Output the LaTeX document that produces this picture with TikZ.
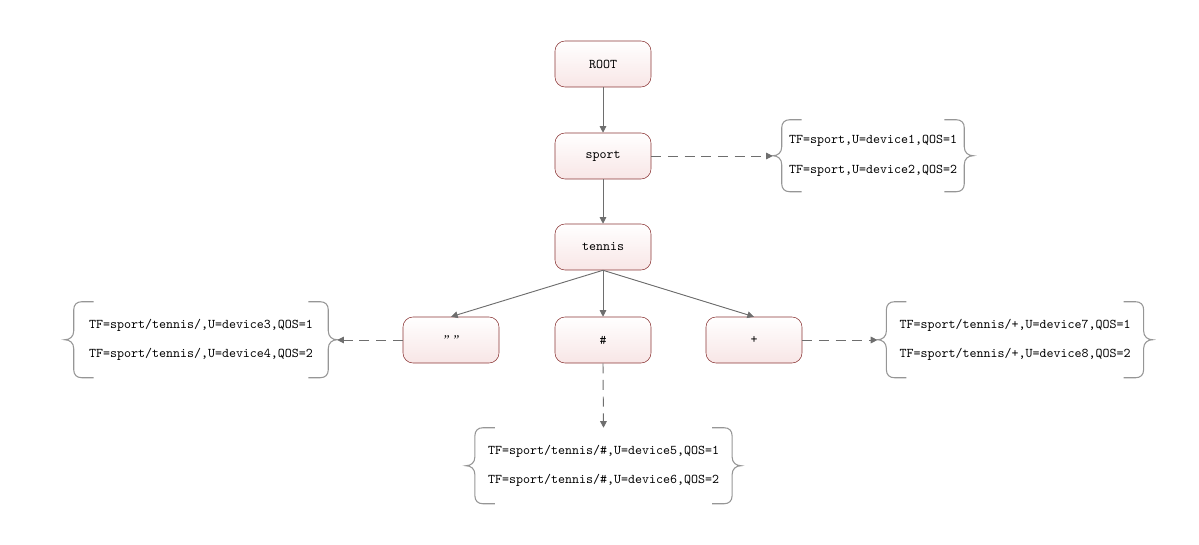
\documentclass[tikz,border=0pt]{standalone}
\usepackage{fontspec}
\newfontfamily\quotefont{Liberation Serif}
\usetikzlibrary{arrows.meta}

\tikzset{
  topic/.style={draw={rgb, 255:red, 140; green, 55; blue, 55}, rounded corners=7.5pt,
    top color=white, bottom color={rgb, 255:red, 248; green, 230; blue, 230},
    minimum width=72pt, minimum height=34.5pt, font=\ttfamily\fontsize{10}{12}\selectfont},
  subs/.style={minimum height=57pt, inner sep=0pt, align=left,
    font=\ttfamily\fontsize{10}{22}\selectfont},
  link/.style={draw={rgb, 255:red, 110; green, 110; blue, 110}, line width=0.7pt,
    -{Triangle[length=5pt,width=5pt]}},
  sublink/.style={link, dash pattern=on 7.5pt off 5pt},
  brace/.style={draw={rgb, 255:red, 150; green, 150; blue, 150}, line width=0.8pt}
}

\begin{document}
\begin{tikzpicture}[x=0.75pt,y=0.75pt,yscale=-1,xscale=1]
    \useasboundingbox (0,0) rectangle (1199,545);

    % Topic Nodes
    \node [topic] (root) at (603,64) {ROOT};
    \node [topic] (sport) at (603,156) {sport};
    \node [topic] (tennis) at (603,247) {tennis};
    \node [topic] (empty) at (451,340) {{\quotefont\itshape ”\,”}};
    \node [topic] (hash) at (603,340) {\#};
    \node [topic] (plus) at (754,340) {+};

    % Subscriber Lists
    \node [subs, minimum width=150pt, minimum height=54pt] (lsport) at (873,156) {TF=sport,U=device1,QOS=1\\TF=sport,U=device2,QOS=2};
    \node [subs, minimum width=204pt] (lempty) at (201,340) {TF=sport/tennis/,U=device3,QOS=1\\TF=sport/tennis/,U=device4,QOS=2};
    \node [subs, minimum width=206pt] (lhash) at (603.5,466) {TF=sport/tennis/\#,U=device5,QOS=1\\TF=sport/tennis/\#,U=device6,QOS=2};
    \node [subs, minimum width=206pt] (lplus) at (1015,340) {TF=sport/tennis/+,U=device7,QOS=1\\TF=sport/tennis/+,U=device8,QOS=2};

    % Braces
    \foreach \n/\h in {lsport/72, lempty/76, lhash/76, lplus/76} {
      \foreach \s/\a in {1/north west, -1/north east} {
        \draw [brace, shift={(\n.\a)}, xscale=\s] (29,0) -- (17,0) .. controls (12,0) and (9,3) .. (9,8) -- (9,\h/2-9) .. controls (9,\h/2-3) and (5,\h/2) .. (0,\h/2) .. controls (5,\h/2) and (9,\h/2+3) .. (9,\h/2+9) -- (9,\h-8) .. controls (9,\h-3) and (12,\h) .. (17,\h) -- (29,\h);
      }
    }

    % Tree Links
    \draw [link] (root) -- (sport);
    \draw [link] (sport) -- (tennis);
    \draw [link] (tennis.south) -- (empty.north);
    \draw [link] (tennis) -- (hash);
    \draw [link] (tennis.south) -- (plus.north);

    % Subscriber Links
    \draw [sublink] (sport.east) -- (lsport.west);
    \draw [sublink] (empty.west) -- (lempty.east);
    \draw [sublink] (hash.south) -- (lhash.north);
    \draw [sublink] (plus.east) -- (lplus.west);
\end{tikzpicture}
\end{document}
